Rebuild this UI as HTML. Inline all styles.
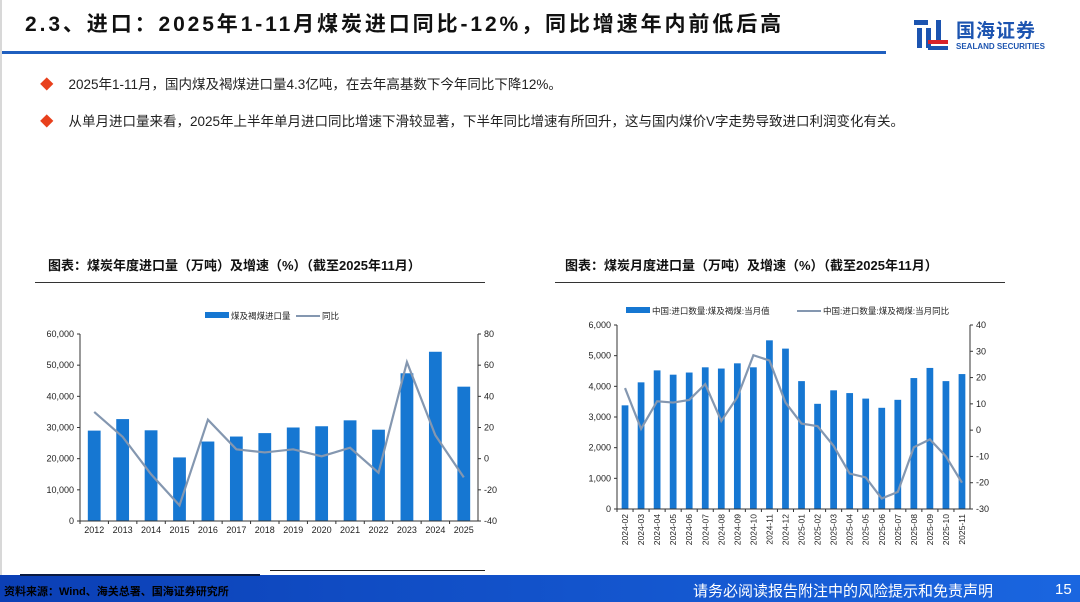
<!DOCTYPE html>
<html><head><meta charset="utf-8"><style>
body{margin:0;width:1080px;height:602px;overflow:hidden;background:#fff;font-family:"Liberation Sans","Noto Sans CJK SC",sans-serif;position:relative}
.abs{position:absolute}
</style></head><body>
<div class="abs" style="left:0;top:0;width:2px;height:575px;background:#d8d8d8"></div>
<div class="abs" style="left:25px;top:8px;font-size:21px;font-weight:bold;letter-spacing:2.9px;color:#111;white-space:nowrap">2.3、进口：2025年1-11月煤炭进口同比-12%，同比增速年内前低后高</div>
<div class="abs" style="left:2px;top:51px;width:884px;height:3px;background:#1f5fbf"></div>
<div class="abs" style="left:912px;top:14px;width:160px;height:40px">
 <svg width="40" height="40" style="position:absolute;left:0;top:0"><rect x="2" y="6" width="14" height="5" fill="#1c54b0"/><rect x="5" y="14" width="5" height="20" fill="#1c54b0"/><rect x="14" y="14" width="5" height="20" fill="#1c54b0"/><rect x="24" y="6" width="5" height="22" fill="#1c54b0"/><rect x="16" y="26" width="20" height="4" fill="#d8222a"/><rect x="16" y="32" width="20" height="4" fill="#1c54b0"/></svg>
 <div class="abs" style="left:44px;top:2px;font-size:19px;font-weight:bold;color:#1c54b0;letter-spacing:1px;white-space:nowrap">国海证券</div>
 <div class="abs" style="left:44px;top:28px;font-size:8px;font-weight:bold;color:#1c54b0;white-space:nowrap">SEALAND SECURITIES</div>
</div>
<div class="abs" style="left:40px;top:73px;font-size:13.5px;color:#222;white-space:nowrap"><span style="color:#e8401c">◆</span>&nbsp;&nbsp;&nbsp;&nbsp;2025年1-11月，国内煤及褐煤进口量4.3亿吨，在去年高基数下今年同比下降12%。</div>
<div class="abs" style="left:40px;top:110px;font-size:13.5px;color:#222;white-space:nowrap"><span style="color:#e8401c">◆</span>&nbsp;&nbsp;&nbsp;&nbsp;从单月进口量来看，2025年上半年单月进口同比增速下滑较显著，下半年同比增速有所回升，这与国内煤价V字走势导致进口利润变化有关。</div>
<div class="abs" style="left:48px;top:255px;font-size:13px;font-weight:bold;color:#111;white-space:nowrap">图表：煤炭年度进口量（万吨）及增速（%）（截至2025年11月）</div>
<div class="abs" style="left:35px;top:282px;width:450px;height:1px;background:#333"></div>
<div class="abs" style="left:565px;top:255px;font-size:13px;font-weight:bold;color:#111;white-space:nowrap">图表：煤炭月度进口量（万吨）及增速（%）（截至2025年11月）</div>
<div class="abs" style="left:555px;top:282px;width:450px;height:1px;background:#333"></div>
<svg id="c" class="abs" style="left:0;top:0" width="1080" height="602"></svg>
<div class="abs" style="left:0;top:575px;width:1080px;height:27px;background:linear-gradient(90deg,#0b3fb5,#1a66e0)"></div>
<div class="abs" style="left:20px;top:574px;width:240px;height:2px;background:#0a1a40"></div>
<div class="abs" style="left:270px;top:570px;width:215px;height:1px;background:#222"></div>
<div class="abs" style="left:4px;top:583px;font-size:11px;font-weight:bold;color:#000;white-space:nowrap">资料来源：Wind、海关总署、国海证券研究所</div>
<div class="abs" style="left:693px;top:580px;font-size:15px;color:#fff;white-space:nowrap">请务必阅读报告附注中的风险提示和免责声明</div>
<div class="abs" style="left:1055px;top:581px;font-size:15px;color:#fff">15</div>
<script>
const yearCats=['2012','2013','2014','2015','2016','2017','2018','2019','2020','2021','2022','2023','2024','2025'];
const yearVol=[29000,32700,29100,20400,25500,27100,28200,30000,30400,32300,29300,47400,54300,43100];
const yearYoy=[30,14,-10,-30,25,6,4,6,1.5,7,-9,62,15,-12];
const leftTicks=[0,10000,20000,30000,40000,50000,60000];
const rightTicks=[-40,-20,0,20,40,60,80];
const monthCats=['2024-02','2024-03','2024-04','2024-05','2024-06','2024-07','2024-08','2024-09','2024-10','2024-11','2024-12','2025-01','2025-02','2025-03','2025-04','2025-05','2025-06','2025-07','2025-08','2025-09','2025-10','2025-11'];
const monthVol=[3380,4130,4520,4380,4450,4620,4580,4750,4620,5500,5230,4170,3430,3870,3780,3600,3300,3560,4270,4600,4170,4400];
const monthYoy=[16,0.5,11,10.5,11.5,17.5,3.5,12.5,28.5,26.5,10.5,2.5,1.5,-6,-16.5,-18,-26,-23.5,-6.5,-3.5,-10,-20];
const mLeftTicks=[0,1000,2000,3000,4000,5000,6000];
const mRightTicks=[-30,-20,-10,0,10,20,30,40];
const svg=document.getElementById('c');const NS='http://www.w3.org/2000/svg';
function mk(t,a,p){const e=document.createElementNS(NS,t);for(const k in a)e.setAttribute(k,a[k]);(p||svg).appendChild(e);return e;}
function fmt(v){return v.toLocaleString('en-US');}
function chart(o){
 const x0=o.x0,x1=o.x1,yT=o.yT,yB=o.yB,n=o.cats.length,bw=(x1-x0)/n;
 const yL=v=>yB-(v-o.lt[0])/(o.lt[o.lt.length-1]-o.lt[0])*(yB-yT);
 const yR=v=>yB-(v-o.rt[0])/(o.rt[o.rt.length-1]-o.rt[0])*(yB-yT);
 const g=mk('g',{});
 
 
 o.vol.forEach((v,i)=>{const r=mk('rect',{x:x0+i*bw+bw*(1-o.bf)/2,y:yL(v),width:bw*o.bf,height:yB-yL(v),fill:'#1677d2'},g);
  
  });
 const pts=o.yoy.map((v,i)=>(x0+(i+.5)*bw)+','+yR(v)).join(' ');
 const pl=mk('polyline',{points:pts,fill:'none',stroke:'#8497b0',"stroke-width":2.2},g);
 
 
 mk('line',{x1:x0,y1:yT,x2:x0,y2:yB,stroke:'#333'},g);mk('line',{x1:x1,y1:yT,x2:x1,y2:yB,stroke:'#333'},g);mk('line',{x1:x0,y1:yB,x2:x1,y2:yB,stroke:'#333'},g);
 o.lt.forEach(v=>{mk('line',{x1:x0-3,y1:yL(v),x2:x0,y2:yL(v),stroke:'#333'},g);const t=mk('text',{x:x0-6,y:yL(v)+3,'text-anchor':'end','font-size':9,fill:'#222'},g);t.textContent=fmt(v);});
 o.rt.forEach(v=>{mk('line',{x1:x1,y1:yR(v),x2:x1+3,y2:yR(v),stroke:'#333'},g);const t=mk('text',{x:x1+6,y:yR(v)+3,'font-size':9,fill:'#222'},g);t.textContent=v;});
 o.cats.forEach((c,i)=>{const cx=x0+(i+.5)*bw;mk('line',{x1:x0+i*bw,y1:yB,x2:x0+i*bw,y2:yB+3,stroke:'#333'},g);
  if(o.rot){const t=mk('text',{x:cx+3,y:yB+5,'text-anchor':'end','font-size':8.5,fill:'#222',transform:`rotate(-90 ${cx+3} ${yB+5})`},g);t.textContent=c;}
  else{const t=mk('text',{x:cx,y:yB+12,'text-anchor':'middle','font-size':9,fill:'#222'},g);t.textContent=c;}});
 const L=o.leg;mk('rect',{x:L.x,y:L.y-4,width:L.w,height:6,fill:'#1677d2'},g);const t1=mk('text',{x:L.x+L.w+2,y:L.y+3,'font-size':8.5,fill:'#222'},g);t1.textContent=L.a;
 mk('line',{x1:L.x2,y1:L.y,x2:L.x2+L.w,y2:L.y,stroke:'#8497b0','stroke-width':2},g);const t2=mk('text',{x:L.x2+L.w+2,y:L.y+3,'font-size':8.5,fill:'#222'},g);t2.textContent=L.b;
}
chart({name:'annual-chart',x0:80,x1:478,yT:334,yB:521,cats:yearCats,vol:yearVol,yoy:yearYoy,lt:leftTicks,rt:rightTicks,bf:0.45,rot:false,leg:{x:205,y:316,w:24,a:'煤及褐煤进口量',x2:296,b:'同比'}});
chart({name:'monthly-chart',x0:617,x1:970,yT:325,yB:509,cats:monthCats,vol:monthVol,yoy:monthYoy,lt:mLeftTicks,rt:mRightTicks,bf:0.42,rot:true,leg:{x:626,y:311,w:24,a:'中国:进口数量:煤及褐煤:当月值',x2:797,b:'中国:进口数量:煤及褐煤:当月同比'}});
</script>
</body></html>
